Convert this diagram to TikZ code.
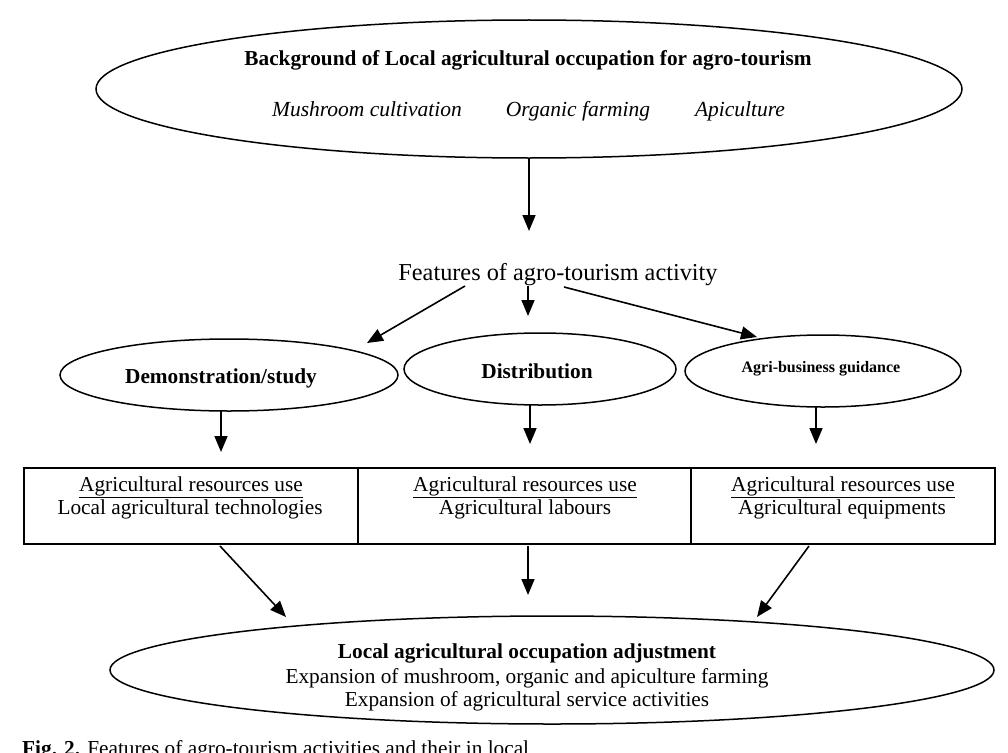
\documentclass[tikz,border=0pt]{standalone}
\usepackage{fontspec}
\setmainfont{Liberation Serif}
\usetikzlibrary{arrows.meta,shapes.geometric}
\tikzset{
  ell/.style={draw,ellipse,line width=1.5pt,inner sep=0pt},
  txt/.style={inner sep=0pt,anchor=base,font=\fontsize{21.3}{25}\selectfont},
  btxt/.style={txt,font=\fontsize{21.3}{25}\selectfont\bfseries},
  itxt/.style={txt,font=\fontsize{21.5}{25}\selectfont\itshape},
  arr/.style={line width=1.6pt,-{Triangle[length=16pt,width=13pt]}},
  boxline/.style={draw,line width=1.8pt,minimum height=76pt,inner sep=0pt}
}
\begin{document}
\begin{tikzpicture}[x=1pt,y=-1pt]
\useasboundingbox (0,0) rectangle (1008,752);
% top ellipse
\node[ell,minimum width=866pt,minimum height=138pt] (top) at (529,89) {};
\node[btxt] (toptitle) at (528,66) {Background of Local agricultural occupation for agro-tourism};
\node[itxt] (mush) at (367,116) {Mushroom cultivation};
\node[itxt] (org) at (578,116) {Organic farming};
\node[itxt] (api) at (740,116) {Apiculture};
% features
\node[txt,font=\fontsize{24.3}{28}\selectfont] (feat) at (558,280) {Features of agro-tourism activity};
% middle ellipses
\node[ell,minimum width=338pt,minimum height=72pt] (demo) at (229,375) {};
\node[btxt] (demot) at (221,383) {Demonstration/study};
\node[ell,minimum width=272pt,minimum height=72pt] (dist) at (540,369) {};
\node[btxt] (distt) at (537,378) {Distribution};
\node[ell,minimum width=276pt,minimum height=72pt] (agri) at (823,371) {};
\node[btxt,font=\fontsize{16}{19}\selectfont\bfseries] (agrit) at (821,372) {Agri-business guidance};
% boxes
\node[boxline,minimum width=334pt] (b1) at (191,506) {};
\node[boxline,minimum width=333pt] (b2) at (524.5,506) {};
\node[boxline,minimum width=304pt] (b3) at (843,506) {};
\node[txt] (b1a) at (191,491) {\underline{Agricultural resources use}};
\node[txt] (b1b) at (190,514) {Local agricultural technologies};
\node[txt] (b2a) at (525,491) {\underline{Agricultural resources use}};
\node[txt] (b2b) at (525,514) {Agricultural labours};
\node[txt] (b3a) at (843,491) {\underline{Agricultural resources use}};
\node[txt] (b3b) at (842,514) {Agricultural equipments};
% bottom ellipse
\node[ell,minimum width=884pt,minimum height=108pt] (bot) at (552,670) {};
\node[btxt] (bota) at (527,658) {Local agricultural occupation adjustment};
\node[txt] (botb) at (527,683) {Expansion of mushroom, organic and apiculture farming};
\node[txt] (botc) at (527,706) {Expansion of agricultural service activities};
% caption (cut by the lower edge, as in the source)
\node[txt,anchor=base west] (cap) at (22,755) {\textbf{Fig. 2.} Features of agro-tourism activities and their in local};
% connector end points
\coordinate (e1) at (529,231);
\coordinate (sL) at (465,286); \coordinate (eL) at (367,343);
\coordinate (sM) at (528,286); \coordinate (eM) at (528,316);
\coordinate (sR) at (564,287); \coordinate (eR) at (757,337);
\coordinate (s2a) at (221,411); \coordinate (e2a) at (221,452);
\coordinate (s2b) at (530,405); \coordinate (e2b) at (530,444);
\coordinate (s2c) at (816,407); \coordinate (e2c) at (816,444);
\coordinate (s3a) at (220,546); \coordinate (e3a) at (286,617);
\coordinate (s3b) at (528,546); \coordinate (e3b) at (528,595);
\coordinate (s3c) at (809,546); \coordinate (e3c) at (757,617);
% connectors
\draw[arr] (top.south) -- (e1);
\draw[arr] (sL) -- (eL);
\draw[arr] (sM) -- (eM);
\draw[arr] (sR) -- (eR);
\draw[arr] (s2a) -- (e2a);
\draw[arr] (s2b) -- (e2b);
\draw[arr] (s2c) -- (e2c);
\draw[arr] (s3a) -- (e3a);
\draw[arr] (s3b) -- (e3b);
\draw[arr] (s3c) -- (e3c);
\end{tikzpicture}
\end{document}
